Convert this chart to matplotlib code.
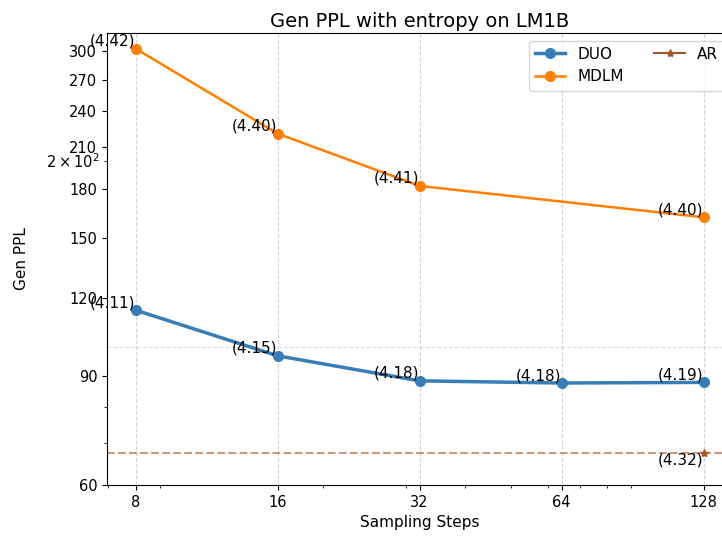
import matplotlib
matplotlib.use("Agg")
import matplotlib.pyplot as plt

# sampling steps on the x axis
steps = [8, 16, 32, 64, 128]

# Gen PPL values
duo_steps = [8, 16, 32, 64, 128]
duo_ppl = [114.8, 96.9, 88.3, 87.6, 87.8]
duo_ent = ["(4.11)", "(4.15)", "(4.18)", "(4.18)", "(4.19)"]

mdlm_steps = [8, 16, 32, 128]
mdlm_ppl = [303, 221, 182, 162]
mdlm_ent = ["(4.42)", "(4.40)", "(4.41)", "(4.40)"]

ar_step = 128
ar_ppl = 67.6
ar_ent = "(4.32)"

yticks = [60, 90, 120, 150, 180, 210, 240, 270, 300]

c_duo = "#377eb8"
c_mdlm = "#ff7f00"
c_ar = "#a65628"

fig = plt.figure(figsize=(7.22, 5.39), dpi=100)
# axes run past the right edge of the picture, like the reference crop
ax = fig.add_axes([107 / 722, 54 / 539, 625 / 722, 452 / 539])

ax.plot(duo_steps, duo_ppl, marker="o", color=c_duo, lw=2.5, ms=7, label="DUO")
ax.plot(mdlm_steps, mdlm_ppl, marker="o", color=c_mdlm, lw=1.8, ms=7, label="MDLM")
ax.plot([ar_step], [ar_ppl], marker="*", color=c_ar, label="AR")
ax.axhline(ar_ppl, color=c_ar, ls="--", lw=1.5, alpha=0.6)

for x, y, t in zip(duo_steps, duo_ppl, duo_ent):
    ax.text(x, y, t, ha="right", va="bottom", fontsize=11)
for x, y, t in zip(mdlm_steps, mdlm_ppl, mdlm_ent):
    ax.text(x, y, t, ha="right", va="bottom", fontsize=11)
ax.text(ar_step, ar_ppl, ar_ent, ha="right", va="top", fontsize=11)

ax.set_xscale("log")
ax.set_yscale("log")
ax.set_xticks(steps, labels=[str(s) for s in steps])
ax.set_yticks(yticks, labels=[str(v) for v in yticks])
ax.set_xlim(6.96, 147)
ax.set_ylim(60, 321)
ax.tick_params(which="both", labelsize=10.5)

ax.grid(axis="x", ls="--", color="#d3d3d3", lw=0.8)
# the reference only shows one horizontal grid line, at 10^2
ax.axhline(100, ls="--", color="#dddddd", lw=0.8, zorder=0)

ax.set_xlabel("Sampling Steps", fontsize=11)
ax.set_ylabel("Gen PPL", fontsize=11, labelpad=12)
ax.set_title("Gen PPL with entropy on LM1B", fontsize=14, pad=4)
ax.legend(loc="upper right", ncol=2, fontsize=11)

fig.savefig("out.png", dpi=100)
